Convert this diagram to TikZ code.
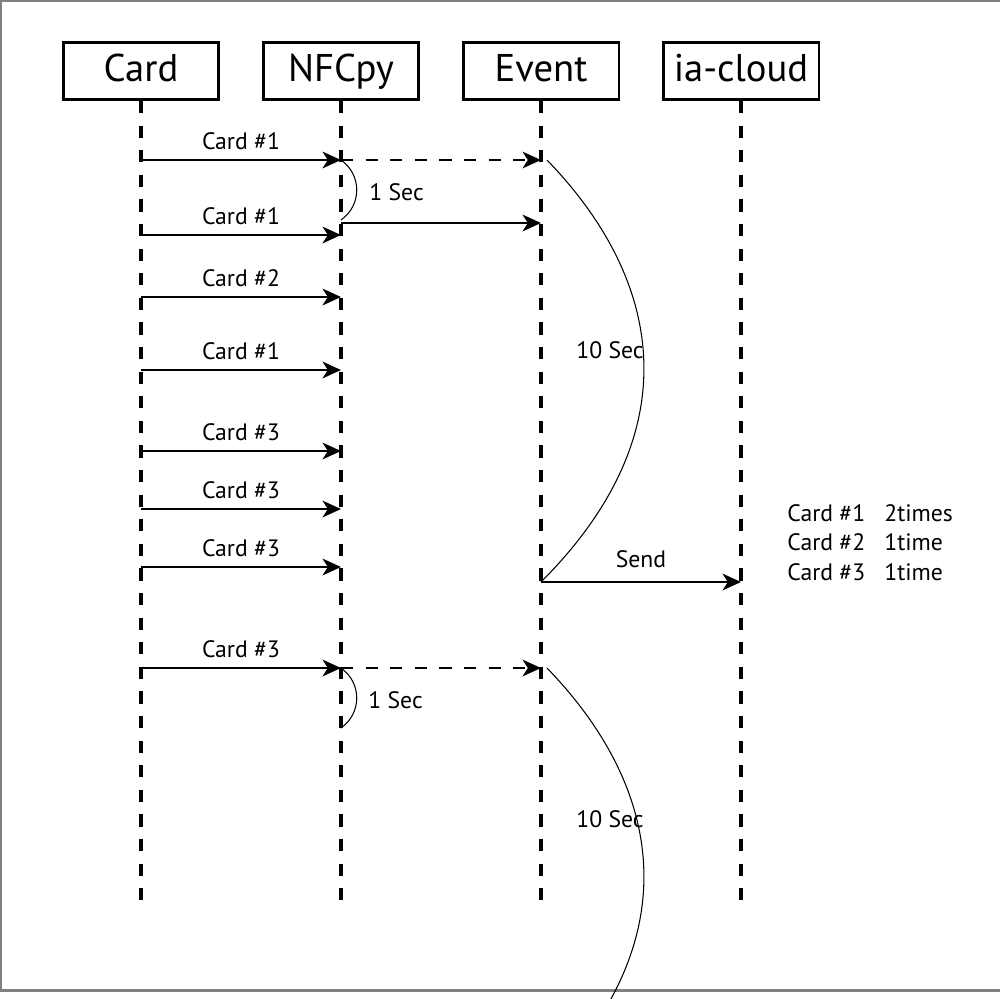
\documentclass[tikz,border=0pt]{standalone}
\usepackage{fontspec}
\setmainfont{PT Sans}
\usetikzlibrary{arrows.meta}

\tikzset{
  actor/.style={draw, line width=1.7pt, minimum width=3.12cm, minimum height=1.14cm,
    inner sep=0pt, font=\fontsize{22}{26}\selectfont, text height=16pt, text depth=4pt},
  lifeline/.style={line width=1.8pt, dash pattern=on 7pt off 7pt},
  msg/.style={line width=1.3pt, -{Stealth[length=10.5pt, width=9.5pt, inset=3pt]}},
  msgdash/.style={msg, dash pattern=on 7pt off 7pt},
  lbl/.style={font=\fontsize{13.5}{16}\selectfont, inner sep=0pt, anchor=base, yshift=6pt},
  note/.style={font=\fontsize{13.5}{16}\selectfont, inner sep=0pt, anchor=base west},
  timer/.style={line width=0.6pt},
  frame/.style={line width=1.4pt, draw=black!50},
}

\begin{document}
\begin{tikzpicture}[x=0.02cm, y=-0.02cm]
    \useasboundingbox (0,0) rectangle (1000,998);
    \draw[frame] (1000,1) -- (1,1) -- (1,990.5) -- (1000,990.5);

    \node[actor] (card) at (141,71) {Card};
    \node[actor] (nfc) at (341,71) {NFCpy};
    \node[actor] (event) at (541,71) {Event};
    \node[actor] (cloud) at (741,71) {ia-cloud};
    \foreach \n in {card,nfc,event,cloud}
        \draw[lifeline] (\n.south) -- (\n.south |- 0,901);

    \foreach \y/\c in {160/1, 235/1, 297/2, 370/1, 451/3, 509/3, 567/3, 668/3}
        \draw[msg] (card |- 0,\y) -- node[lbl] {Card \#\c} (nfc |- 0,\y);

    \draw[msgdash] (nfc |- 0,160) -- (event |- 0,160);
    \draw[msg] (nfc |- 0,223) -- (event |- 0,223);
    \draw[msg] (event |- 0,582) -- node[lbl, yshift=2.5pt] {Send} (cloud |- 0,582);
    \draw[msgdash] (nfc |- 0,668) -- (event |- 0,668);

    \draw[timer] (nfc |- 0,160) .. controls +(21,15) and +(21,-15) .. (nfc |- 0,220);
    \draw[timer] (nfc |- 0,668) .. controls +(21,15) and +(21,-15) .. (nfc |- 0,728);
    \node[note] (sec1) at (369,200) {1 Sec};
    \node[note] (sec2) at (368,708) {1 Sec};

    \coordinate (wait1) at (547,160);
    \coordinate (wait2) at (547,668);
    \draw[timer] (wait1) .. controls +(116,120) and +(150,-150) .. (event |- 0,582);
    \draw[timer] (wait2) .. controls +(116,120) and +(150,-150) .. (event |- 0,1090);
    \node[note] (ten1) at (576,358) {10 Sec};
    \node[note] (ten2) at (576,827) {10 Sec};

    \foreach \c/\t [count=\i] in {1/2times, 2/1time, 3/1time} {
        \node[note] (cnt\i) at (787,491.5+29.5*\i) {Card \#\c};
        \node[note] (tms\i) at (884,491.5+29.5*\i) {\t};
    }
\end{tikzpicture}
\end{document}
